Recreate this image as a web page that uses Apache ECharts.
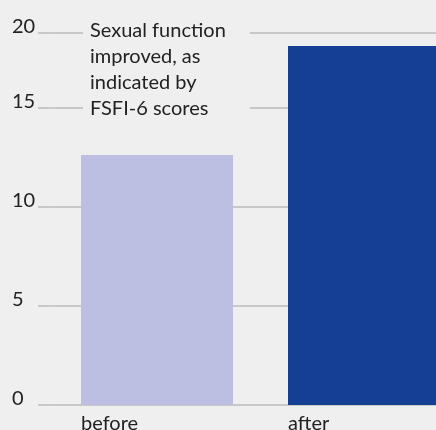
<!DOCTYPE html>
<html>
<head>
<meta charset="utf-8">
<script src="https://cdn.jsdelivr.net/npm/echarts@6/dist/echarts.min.js"></script>
<style>
  html, body { margin: 0; padding: 0; background: #efefef; }
  #chart { width: 436px; height: 430px; }
</style>
</head>
<body>
<div id="chart"></div>
<script>
// FSFI-6 scores before and after
const categories = ['before', 'after'];
const scores = [12.6, 18.1];
const barColors = ['#bcbfe2', '#153f94'];

// y axis ticks and the labels printed beside them
const yTickValues = [0, 5, 10, 15, 18.75];
const yTickLabels = ['0', '5', '10', '15', '20'];

const note = 'Sexual function\nimproved, as\nindicated by\nFSFI-6 scores';

const FONT = 'Lato, "Source Sans Pro", "Noto Sans", sans-serif';
const GRID_COLOR = '#c8c8c8';

const chart = echarts.init(document.getElementById('chart'), null, { renderer: 'canvas' });

chart.setOption({
  backgroundColor: '#efefef',
  animation: false,
  // the plot runs past the right edge, so the second bar is cut off
  grid: {
    left: 53.5, top: 33, width: 414, bottom: 25,
    containLabel: false,
    outerBoundsMode: 'none'
  },
  xAxis: {
    type: 'category',
    data: categories,
    axisLine: { show: false },
    axisTick: { show: false },
    axisLabel: {
      margin: 9,
      formatter: v => '{l|' + v + '}',
      rich: {
        l: { width: 152, align: 'left', fontSize: 20, fontFamily: FONT, color: '#222' }
      }
    }
  },
  yAxis: {
    type: 'value',
    min: yTickValues[0],
    max: yTickValues[yTickValues.length - 1],
    interval: 5,
    axisLine: { show: false },
    axisTick: { show: true, inside: false, length: 15.5, lineStyle: { color: GRID_COLOR, width: 2 } },
    splitLine: { show: true, lineStyle: { color: GRID_COLOR, width: 2 } },
    axisLabel: {
      margin: 41.5,
      align: 'left',
      verticalAlign: 'bottom',
      lineHeight: 12,
      fontSize: 20,
      fontFamily: FONT,
      color: '#222',
      formatter: v => {
        const i = yTickValues.findIndex(t => Math.abs(t - v) < 1e-6);
        return i >= 0 ? yTickLabels[i] : '';
      }
    }
  },
  series: [{
    type: 'bar',
    barWidth: 152,
    data: scores.map((v, i) => ({ value: v, itemStyle: { color: barColors[i] } }))
  }],
  graphic: [{
    type: 'text',
    z: 100,
    x: 83,
    y: 14,
    style: {
      text: note,
      font: '20px ' + FONT,
      lineHeight: 26,
      fill: '#222',
      backgroundColor: '#efefef',
      padding: [4, 24, 4, 7]
    }
  }]
});
</script>
</body>
</html>
